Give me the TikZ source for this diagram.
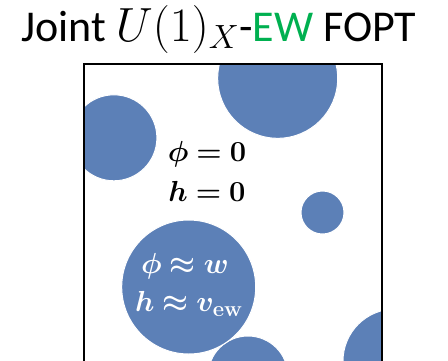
\RequirePackage{fix-cm}
\documentclass[tikz,border=0pt]{standalone}
\usepackage{amsmath,bm}
\usepackage[no-math]{fontspec}
\setmainfont{Carlito}
\definecolor{bub}{RGB}{92,128,183}
\definecolor{ewgreen}{RGB}{0,176,80}
\tikzset{
  bubble/.style={fill=bub, draw=white, line width=1pt},
  lbl/.style={font=\fontsize{29}{34}\selectfont, anchor=base, inner sep=0pt},
}
\begin{document}
\begin{tikzpicture}[x=1pt,y=-1pt]
\useasboundingbox (0,0) rectangle (448,360);
\node[anchor=base west, inner sep=0pt, font=\fontsize{44}{50}\selectfont] (title) at (21,41.7)
  {Joint {\fontsize{48}{54}\selectfont$U(1)_X$}-{\color{ewgreen}EW} FOPT};
\begin{scope}
  \clip (84,64) rectangle (382,370);
  \filldraw[bubble] (277.7,78.3) circle[radius=60];
  \filldraw[bubble] (113.9,137.8) circle[radius=43];
  \filldraw[bubble] (322.5,212.5) circle[radius=21.5];
  \filldraw[bubble] (248,376) circle[radius=40];
  \filldraw[bubble] (188.7,287) circle[radius=67];
  \filldraw[bubble] (395,361) circle[radius=52];
\end{scope}
\draw[line width=2pt] (84,370) -- (84,64) -- (382,64) -- (382,370);
\node[lbl] (phi0) at (207,161.7) {$\bm{\phi \mathrel{=} 0}$};
\node[lbl] (h0) at (207,201.7) {$\bm{h \mathrel{=} 0}$};
\node[lbl, text=white] (phiw) at (185,273) {$\bm{\phi \approx w}$};
\node[lbl, text=white] (hv) at (189,311.7)
  {$\bm{h \approx v}_{\hbox{\fontsize{22}{24}\selectfont$\mathbf{ew}$}}$};
\end{tikzpicture}
\end{document}
